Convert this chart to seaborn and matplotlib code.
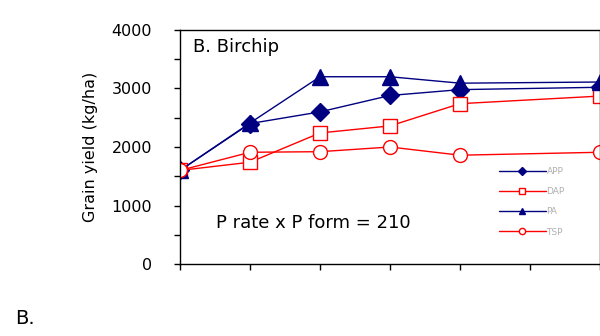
import numpy as np
import pandas as pd
import matplotlib
matplotlib.use("Agg")
import matplotlib.pyplot as plt
import seaborn as sns

# ---------------------------------------------------------------------------
# Data
# ---------------------------------------------------------------------------

P_RATE = [0, 1, 2, 3, 4, 6]
APP = [1600, 2400, 2600, 2880, 2980, 3020]
DAP = [1600, 1740, 2240, 2360, 2740, 2870]
PA = [1600, 2410, 3200, 3200, 3090, 3110]
TSP = [1600, 1910, 1920, 2000, 1860, 1910]

NAVY = "#000080"
RED = "#FF0000"

sns.set_style("white")
plt.rcParams.update({
    "font.family": ["DejaVu Sans"],
    "text.color": "black",
    "axes.labelcolor": "black",
    "ytick.color": "black",
    "xtick.color": "black",
})

series = [
    ("APP", APP, NAVY, "D", True, 9),
    ("DAP", DAP, RED, "s", False, 10),
    ("PA", PA, NAVY, "^", True, 11),
    ("TSP", TSP, RED, "o", False, 10),
]

fig = plt.figure(figsize=(6, 3.36), dpi=100)
ax = fig.add_axes([0.30, 0.214, 0.70, 0.697])

for name, vals, color, marker, filled, ms in series:
    df = pd.DataFrame({"rate": P_RATE, "yield": vals})
    sns.lineplot(data=df, x="rate", y="yield", ax=ax, color=color,
                 marker=marker, markersize=ms,
                 markerfacecolor=color if filled else "white",
                 markeredgecolor=color, markeredgewidth=1.0,
                 linewidth=1.0, label=name, clip_on=True)

ax.set_xlim(0, 6)
ax.set_ylim(0, 4000)
ax.set_xticks(range(0, 7))
ax.set_xticklabels([])
ax.set_yticks([0, 1000, 2000, 3000, 4000])
ax.set_yticks([500, 1500, 2500, 3500], minor=True)
ax.tick_params(axis="both", which="both", direction="out", length=4,
               width=1, color="black", left=True, bottom=True)
ax.tick_params(axis="y", labelsize=11.5, pad=16)
ax.set_xlabel("")
ax.set_ylabel("Grain yield (kg/ha)", fontsize=11.5, labelpad=10)
for side in ["left", "bottom", "top", "right"]:
    ax.spines[side].set_color("black")
    ax.spines[side].set_linewidth(1.0)

ax.text(0.03, 0.965, "B. Birchip", transform=ax.transAxes, fontsize=13,
        ha="left", va="top")
ax.text(0.085, 0.175, "P rate x P form = 210", transform=ax.transAxes,
        fontsize=13, ha="left", va="center")

leg = ax.legend(loc="lower left", bbox_to_anchor=(0.735, 0.075), frameon=False,
                fontsize=6.5, markerscale=0.45, handlelength=5.2,
                labelspacing=1.25, handletextpad=0.1, borderpad=0.6)
for t in leg.get_texts():
    t.set_color("#b0b0b0")

fig.text(0.025, 0.025, "B.", fontsize=14, ha="left", va="bottom")

fig.savefig("out.png", dpi=100)
